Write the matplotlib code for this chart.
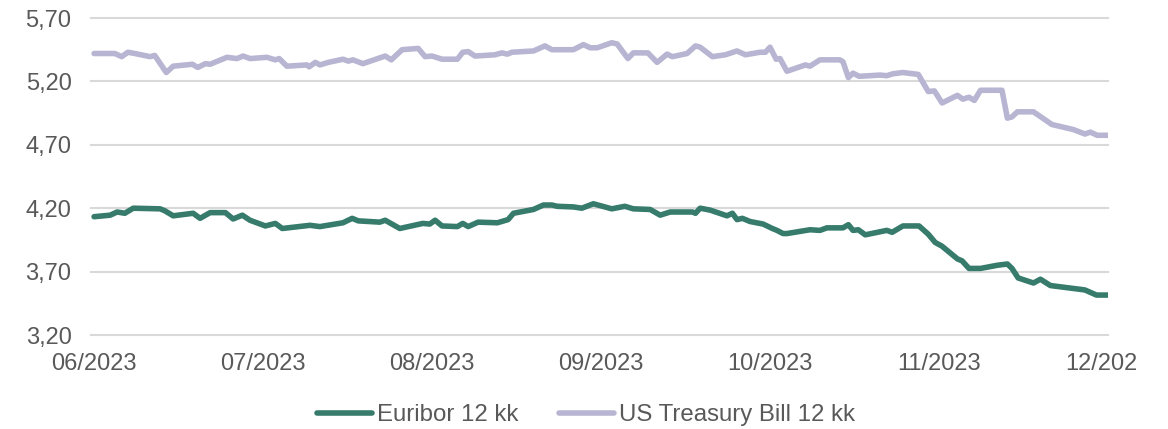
import numpy as np
import matplotlib
matplotlib.use('Agg')
import matplotlib.pyplot as plt
from matplotlib.transforms import Bbox, TransformedBbox

# ----------------------------- data -----------------------------
# x = observation index (business days from start of 06/2023), labels every 22 obs
tick_labels = ['06/2023', '07/2023', '08/2023', '09/2023', '10/2023', '11/2023', '12/2023']
tick_pos = [0, 22, 44, 66, 88, 110, 132]

euribor_x = [0, 2.1, 3.0, 4.0, 5.1, 8.6, 9.2, 10.3, 12.9, 13.8, 15.1, 17.1, 18.1, 19.3, 20.3,
             22.3, 23.6, 24.5, 28.1, 29.4, 32.4, 33.6, 34.4, 37.2, 37.9, 39.8, 42.8, 43.7,
             44.4, 45.3, 47.3, 48.0, 48.7, 50.0, 52.5, 53.9, 54.6, 57.2, 58.5, 59.6, 60.3,
             62.4, 63.5, 65.0, 67.4, 69.1, 70.2, 72.4, 73.7, 75.0, 77.9, 78.3, 78.9, 80.2,
             82.4, 83.1, 83.7, 84.4, 85.4, 87.1, 88.3, 88.9, 89.7, 90.2, 93.2, 94.5, 95.4,
             97.5, 98.2, 98.8, 99.5, 100.4, 103.2, 103.9, 105.3, 107.4, 108.6, 109.5, 110.4,
             112.4, 113.0, 113.9, 115.4, 117.6, 118.9, 119.5, 120.3, 122.3, 123.2, 124.5,
             128.4, 129.0, 130.5, 132]
euribor = [4.133, 4.145, 4.17, 4.16, 4.20, 4.195, 4.18, 4.14, 4.16, 4.12, 4.165, 4.165, 4.115,
           4.145, 4.105, 4.06, 4.08, 4.04, 4.065, 4.055, 4.085, 4.12, 4.10, 4.09, 4.105, 4.04,
           4.08, 4.075, 4.105, 4.06, 4.055, 4.08, 4.055, 4.09, 4.085, 4.11, 4.16, 4.19, 4.225,
           4.225, 4.215, 4.21, 4.20, 4.235, 4.195, 4.215, 4.195, 4.19, 4.145, 4.17, 4.17, 4.16,
           4.20, 4.185, 4.14, 4.16, 4.11, 4.12, 4.095, 4.075, 4.04, 4.025, 4.00, 4.00, 4.03,
           4.025, 4.045, 4.045, 4.07, 4.025, 4.03, 3.99, 4.025, 4.01, 4.06, 4.06, 3.995, 3.93,
           3.90, 3.80, 3.785, 3.725, 3.725, 3.75, 3.76, 3.725, 3.65, 3.61, 3.64, 3.59, 3.56,
           3.555, 3.515, 3.515]

tbill_x = [0, 2.7, 3.6, 4.4, 5.3, 7.3, 7.9, 9.4, 10.3, 12.8, 13.5, 14.5, 15.1, 17.3, 18.6,
           19.4, 20.3, 22.5, 23.6, 24.1, 25.1, 27.7, 28.0, 28.8, 29.4, 30.5, 32.4, 33.1, 33.7,
           35.0, 37.9, 38.7, 40.1, 42.2, 43.1, 44.0, 45.3, 47.3, 48.0, 48.7, 49.6, 52.2, 53.1,
           53.8, 54.4, 57.2, 58.7, 59.6, 62.4, 63.7, 64.6, 65.5, 67.4, 68.1, 69.5, 70.2, 72.1,
           73.3, 74.6, 75.3, 77.2, 78.3, 78.9, 80.5, 82.2, 83.7, 84.8, 86.7, 87.4, 88.0, 88.8,
           89.3, 90.2, 92.6, 93.2, 94.5, 97.1, 97.5, 98.2, 98.8, 99.6, 102.3, 103.2, 104.0,
           105.3, 107.3, 108.6, 109.4, 110.4, 112.4, 113.1, 113.9, 114.6, 115.4, 118.2, 118.9,
           119.5, 120.2, 122.3, 124.7, 127.5, 129.0, 129.7, 130.6, 132]
tbill = [5.42, 5.42, 5.395, 5.43, 5.42, 5.395, 5.405, 5.27, 5.32, 5.335, 5.31, 5.34, 5.335,
         5.39, 5.38, 5.40, 5.38, 5.39, 5.37, 5.38, 5.32, 5.33, 5.315, 5.35, 5.33, 5.35, 5.375,
         5.36, 5.37, 5.34, 5.40, 5.37, 5.45, 5.46, 5.395, 5.40, 5.375, 5.375, 5.43, 5.435,
         5.40, 5.41, 5.425, 5.415, 5.43, 5.44, 5.48, 5.45, 5.45, 5.49, 5.465, 5.465, 5.505,
         5.495, 5.38, 5.425, 5.425, 5.35, 5.415, 5.395, 5.42, 5.48, 5.47, 5.395, 5.41, 5.44,
         5.41, 5.43, 5.43, 5.47, 5.375, 5.38, 5.28, 5.33, 5.32, 5.37, 5.37, 5.355, 5.23,
         5.265, 5.24, 5.25, 5.245, 5.26, 5.27, 5.255, 5.12, 5.125, 5.03, 5.09, 5.06, 5.075,
         5.05, 5.13, 5.13, 4.91, 4.92, 4.96, 4.96, 4.86, 4.82, 4.785, 4.80, 4.775, 4.775]

y_ticks = [3.20, 3.70, 4.20, 4.70, 5.20, 5.70]

# ----------------------------- plot -----------------------------
W, H = 1168, 429
GREEN = '#367B6B'; PURPLE = '#B8B5D3'; TXT = '#595959'; GRID = '#D9D9D9'
plt.rcParams['font.family'] = ['Liberation Sans', 'DejaVu Sans']

fig = plt.figure(figsize=(W/100, H/100), dpi=100)
ax = fig.add_axes([91/W, 1-335/H, (1108-91)/W, (335-18)/H])

ax.plot(euribor_x, euribor, color=GREEN, lw=4.0, solid_joinstyle='round',
        solid_capstyle='round', label='Euribor 12 kk', zorder=3)
ax.plot(tbill_x, tbill, color=PURPLE, lw=4.0, solid_joinstyle='round',
        solid_capstyle='round', label='US Treasury Bill 12 kk', zorder=3)

ax.set_xlim(-0.4, 132)
ax.set_ylim(3.20, 5.70)
ax.set_yticks(y_ticks)
ax.set_yticklabels([f'{v:.2f}'.replace('.', ',') for v in y_ticks])
ax.set_xticks(tick_pos[:-1])
ax.set_xticklabels(tick_labels[:-1])
ax.tick_params(length=0, labelsize=17, colors=TXT)
ax.tick_params(axis='y', pad=14)
ax.tick_params(axis='x', pad=13)
for s in ax.spines.values():
    s.set_visible(False)
for y in y_ticks:
    ax.axhline(y, color=GRID, lw=1.5, zorder=1, clip_on=False)

# last month label sits on the right edge and is cut off by the chart area
last = ax.text(tick_pos[-1], -0.058, tick_labels[-1], transform=ax.get_xaxis_transform(),
               ha='center', va='top', fontsize=17, color=TXT)
last.set_clip_box(TransformedBbox(Bbox([[0, 0], [1138/W, 1]]), fig.transFigure))
last.set_clip_on(True)

h, l = ax.get_legend_handles_labels()
fig.legend(h, l, loc='center', bbox_to_anchor=(586/W, 1-415/H), ncol=2, frameon=False,
           prop={'size': 17.3}, labelcolor=TXT, handlelength=2.3, handletextpad=0.2,
           columnspacing=1.7)

fig.savefig('out.png', dpi=100)
